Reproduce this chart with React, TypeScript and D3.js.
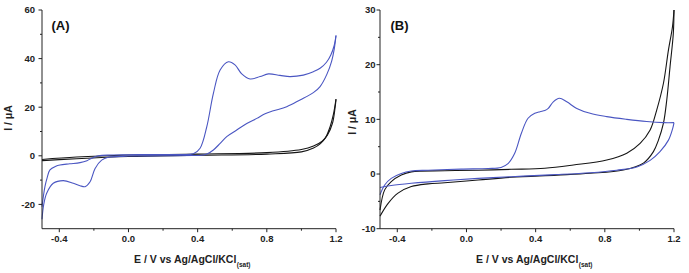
import React from "react";
import * as d3 from "d3";

// ---------- data ----------
const xTickValues = [-0.4, 0.0, 0.4, 0.8, 1.2];
const xMinorValues = [-0.2, 0.2, 0.6, 1.0];
const aYTicks = [-20, 0, 20, 40, 60];
const aYMinor = [-10, 10, 30, 50];
const bYTicks = [-10, 0, 10, 20, 30];
const bYMinor = [-5, 5, 15, 25];

// Panel A – blue (anodic sweep then return)
const aBlueForward: [number, number][] = [
  [-0.5, -20.9], [-0.483, -12.7], [-0.47, -9], [-0.454, -5.8], [-0.42, -4.3], [-0.396, -3.8],
  [-0.34, -3.3], [-0.28, -2.8], [-0.24, -2.0], [-0.213, -1.0], [-0.174, 0], [-0.1, 0.3],
  [0.0, 0.4], [0.1, 0.5], [0.2, 0.5], [0.298, 0.5], [0.375, 0.8], [0.414, 3.1], [0.453, 12.0],
  [0.491, 25.7], [0.53, 35.3], [0.578, 38.7], [0.616, 37.4], [0.655, 33.7], [0.703, 31.6],
  [0.761, 32.6], [0.809, 33.7], [0.876, 33.1], [0.934, 32.6], [1.011, 33.2], [1.069, 34.6],
  [1.108, 36], [1.145, 38.5], [1.17, 41.5], [1.19, 45.5], [1.2, 49.5],
];
const aBlueReturn: [number, number][] = [
  [1.2, 49.5], [1.19, 44], [1.175, 39], [1.147, 33.5], [1.108, 28.5], [1.069, 26], [0.992, 23],
  [0.915, 20.2], [0.838, 18.5], [0.79, 17.3], [0.742, 15.4], [0.684, 13.3], [0.626, 10.6],
  [0.568, 7.9], [0.53, 5.1], [0.491, 2.4], [0.453, 0.7], [0.42, 0.2], [0.375, 0.1], [0.2, 0],
  [0.0, -0.1], [-0.049, -0.3], [-0.117, -0.6], [-0.155, -1.8], [-0.193, -5.2], [-0.222, -10.7],
  [-0.251, -12.7], [-0.28, -12.3], [-0.319, -11.3], [-0.377, -10.2], [-0.435, -11.3],
  [-0.473, -15.4], [-0.49, -20], [-0.5, -26.1],
];
// Panel A – black (blank electrode)
const aBlackForward: [number, number][] = [
  [-0.5, -2.0], [-0.3, -1.2], [0.0, -0.3], [0.4, 0.2], [0.8, 0.7], [1.0, 1.6], [1.07, 3.2],
  [1.11, 5], [1.14, 7.5], [1.166, 12], [1.185, 17], [1.2, 23.3],
];
const aBlackReturn: [number, number][] = [
  [1.2, 23.3], [1.195, 20], [1.18, 13.5], [1.15, 8.5], [1.12, 6], [1.07, 4], [1.0, 2.6],
  [0.8, 1.3], [0.4, 0.7], [0.0, 0.3], [-0.3, -0.5], [-0.5, -1.5],
];

// Panel B – blue
const bBlueForward: [number, number][] = [
  [-0.5, -3.8], [-0.473, -2.0], [-0.435, -0.8], [-0.377, 0.1], [-0.319, 0.55], [-0.222, 0.7],
  [-0.03, 0.9], [0.125, 1.0], [0.2, 1.2], [0.24, 1.9], [0.279, 3.8], [0.317, 7.4], [0.356, 10.2],
  [0.395, 11.1], [0.425, 11.4], [0.453, 11.6], [0.473, 12.0], [0.502, 13.2], [0.537, 13.85],
  [0.58, 13.2], [0.638, 12.0], [0.715, 11.1], [0.811, 10.5], [0.927, 10.0], [1.042, 9.6],
  [1.139, 9.4], [1.2, 9.4],
];
const bBlueReturn: [number, number][] = [
  [1.2, 9.4], [1.193, 8.4], [1.168, 6.2], [1.119, 4.1], [1.062, 2.5], [0.985, 1.3],
  [0.869, 0.7], [0.715, 0.24], [0.522, -0.1], [0.453, -0.2], [0.259, -0.5], [0.067, -0.8],
  [-0.126, -1.2], [-0.319, -1.7], [-0.435, -2.1], [-0.5, -2.45],
];
// Panel B – black
const bBlackForward: [number, number][] = [
  [-0.5, -6.6], [-0.473, -2.9], [-0.435, -1.4], [-0.377, -0.2], [-0.319, 0.4], [-0.126, 0.6],
  [0.067, 0.7], [0.259, 0.86], [0.453, 1.05], [0.618, 1.65], [0.811, 2.56], [0.927, 3.8],
  [1.004, 5.6], [1.062, 8.05], [1.1, 11.7], [1.139, 16.6], [1.168, 22.7], [1.191, 26.9], [1.2, 30],
];
const bBlackReturn: [number, number][] = [
  [1.2, 30], [1.196, 25.7], [1.177, 19.6], [1.158, 13.5], [1.139, 9.3], [1.11, 6.2],
  [1.081, 4.1], [1.023, 2.0], [0.907, 0.73], [0.715, 0.13], [0.522, -0.2], [0.259, -0.6],
  [0.067, -1.1], [-0.126, -1.6], [-0.222, -1.8], [-0.319, -2.3], [-0.396, -3.5], [-0.454, -5.4],
  [-0.5, -7.7],
];

// ---------- styling ----------
const BLUE = "#4a56c2";
const BLACK = "#151515";
const AXIS = "#222";
const FONT = "'Liberation Sans', Arial, sans-serif";

type PanelProps = {
  left: number;
  right: number;
  top: number;
  bottom: number;
  yDomain: [number, number];
  yTicks: number[];
  yMinor: number[];
  yLabelGap: number;
  yTitleX: number;
  yTitleY: number;
  tag: string;
  tagX: number;
  titleX: number;
  blue: [number, number][][];
  black: [number, number][][];
};

function Panel(p: PanelProps) {
  const x = d3.scaleLinear().domain([-0.5, 1.2]).range([p.left, p.right]);
  const y = d3.scaleLinear().domain(p.yDomain).range([p.bottom, p.top]);
  const line = d3
    .line<[number, number]>()
    .x((d) => x(d[0]))
    .y((d) => y(d[1]))
    .curve(d3.curveCatmullRom.alpha(0.5));

  return (
    <g>
      {p.black.map((s, i) => (
        <path key={"k" + i} d={line(s) || ""} fill="none" stroke={BLACK} strokeWidth={1.1} />
      ))}
      {p.blue.map((s, i) => (
        <path key={"b" + i} d={line(s) || ""} fill="none" stroke={BLUE} strokeWidth={1.1} />
      ))}
      {/* axes */}
      <line x1={p.left} x2={p.left} y1={p.top} y2={p.bottom} stroke={AXIS} strokeWidth={1} />
      <line x1={p.left} x2={p.right} y1={p.bottom} y2={p.bottom} stroke={AXIS} strokeWidth={1} />
      {xTickValues.map((v) => (
        <g key={"xt" + v}>
          <line x1={x(v)} x2={x(v)} y1={p.bottom} y2={p.bottom + 3.5} stroke={AXIS} />
          <text x={x(v)} y={242} textAnchor="middle" fontFamily={FONT} fontWeight="bold" fontSize={9.5} fill="#222">
            {v.toFixed(1)}
          </text>
        </g>
      ))}
      {xMinorValues.map((v) => (
        <line key={"xm" + v} x1={x(v)} x2={x(v)} y1={p.bottom} y2={p.bottom + 2} stroke={AXIS} />
      ))}
      {p.yTicks.map((v) => (
        <g key={"yt" + v}>
          <line x1={p.left - 3.5} x2={p.left} y1={y(v)} y2={y(v)} stroke={AXIS} />
          <text x={p.left - p.yLabelGap} y={y(v) + 3.4} textAnchor="end" fontFamily={FONT} fontWeight="bold" fontSize={9.5} fill="#222">
            {String(v)}
          </text>
        </g>
      ))}
      {p.yMinor.map((v) => (
        <line key={"ym" + v} x1={p.left - 2} x2={p.left} y1={y(v)} y2={y(v)} stroke={AXIS} />
      ))}
      {/* titles */}
      <text
        transform={`translate(${p.yTitleX},${p.yTitleY}) rotate(-90)`}
        textAnchor="middle"
        fontFamily={FONT}
        fontWeight="bold"
        fontSize={10.5}
        fill="#222"
      >
        I / μA
      </text>
      <text x={p.titleX} y={263} fontFamily={FONT} fontWeight="bold" fontSize={10.5} fill="#222">
        E / V vs Ag/AgCl/KCl
        <tspan fontSize={6.5} dy={3.5} dx={0.5}>(sat)</tspan>
      </text>
      <text x={p.tagX} y={29.5} fontFamily={FONT} fontWeight="bold" fontSize={13} fill="#111">
        {p.tag}
      </text>
    </g>
  );
}

export default function App() {
  return (
    <svg
      width={689}
      height={273}
      viewBox="0 0 689 273"
      style={{ position: "absolute", left: 0, top: 0, background: "#fff" }}
    >
      <rect width={689} height={273} fill="#fff" />
      <Panel
        left={42}
        right={336}
        top={10}
        bottom={228.7}
        yDomain={[-30, 60]}
        yTicks={aYTicks}
        yMinor={aYMinor}
        yLabelGap={7}
        yTitleX={11.5}
        yTitleY={118}
        tag="(A)"
        tagX={51.5}
        titleX={134}
        blue={[aBlueForward, aBlueReturn]}
        black={[aBlackForward, aBlackReturn]}
      />
      <Panel
        left={380}
        right={674}
        top={10}
        bottom={228.7}
        yDomain={[-10, 30]}
        yTicks={bYTicks}
        yMinor={bYMinor}
        yLabelGap={4.5}
        yTitleX={355.5}
        yTitleY={122}
        tag="(B)"
        tagX={390.5}
        titleX={476}
        blue={[bBlueForward, bBlueReturn]}
        black={[bBlackForward, bBlackReturn]}
      />
    </svg>
  );
}
